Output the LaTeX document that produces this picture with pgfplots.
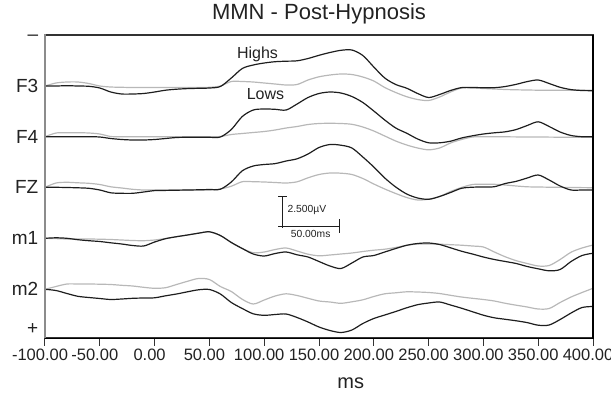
\documentclass[border=0pt]{standalone}
\usepackage{fontspec}
\setmainfont{Liberation Sans}
\usepackage{pgfplots}
\usepackage{pgfplotstable}
\usetikzlibrary{calc}
\pgfplotsset{compat=1.18}
\definecolor{framec}{HTML}{333333}
\definecolor{leftc}{HTML}{8C8C8C}
\definecolor{highc}{HTML}{1E1E1E}
\definecolor{lowc}{HTML}{B8B8B8}
\definecolor{textc}{HTML}{222222}
\pgfplotstableread{
ms f3h f3l f4h f4l fzh fzl m1h m1l m2h m2l
-100 86 86 136.7 136.7 187.3 187.3 238.3 238.3 289.3 289.3
-90 86 83 136.7 133 187.3 183 237.8 238.6 290.5 286.5
-80 85.7 82 136.7 132.7 187.5 182.3 238.3 239 293.5 284
-70 86 82 136.7 132.7 187.8 182.8 239.7 239 296.3 284
-60 86.3 83.5 136.7 133 188.3 183.3 240.7 239 297.5 284
-50 88 86 137 134 190 184.5 241.5 239.2 298.5 284.2
-40 92 87 138.5 136.5 192.8 186.8 242.8 239.5 299.5 284.5
-30 94 87.3 139.5 136.7 193.3 188 244 240 299 285.3
-20 94 87.5 140 136.7 193.3 189.3 245.5 240.5 298.3 286
-10 93.5 87.5 140 136.7 192 190 246 240.7 298 287.3
0 92 87.5 139.5 136.7 190.6 190 242 240 297.8 288.3
10 90.2 87.5 138.5 136.7 190.4 190 238.7 238.5 295.8 287.7
20 89.2 87.5 137.5 136.7 190.2 190 236.7 236.7 294 284.5
30 88.6 87.5 137.3 136.7 190 190 235 235 291.8 281.3
40 88.3 87.5 137.3 136.7 189.8 190 233.2 233.2 289.8 278.5
50 88 87.3 137.3 136.7 189.5 190 231.8 231.8 289.5 279.5
60 86.5 86 137 136.5 189.2 189 235.5 235.5 294 286.5
70 78 81.5 129.5 134.5 182 186.2 242.5 242.5 302.5 291.5
80 68.5 81.5 116.5 133.5 170.8 181.7 248.5 248.5 308.5 299.3
90 65 82 110 132.5 166 181.7 254 252.7 313.8 304
100 63 83 109 131.5 164.5 182 256 252 315.3 300
110 61.7 84 109.3 130 163.6 182.5 253.5 249.5 314.5 296
120 61.2 85 110 128 161 183 252 248 314 293.8
130 60.8 84.5 104 126.5 158.8 181.8 254.8 251 317.5 295.5
140 58.5 80 97.5 124.5 154 177.8 257 254.2 322 298.3
150 55.3 76.8 93.5 123.5 147.5 174.5 261.5 255.8 327 301
160 52.5 75 92 123.3 144.5 173 266 255 330.5 302
170 50.3 74 93 123.5 145.2 173.2 268.5 254 332.5 303.3
180 50 74.5 96.5 124.3 148 174.5 263 253 330 301.8
190 55.5 77 102.5 127 157 178.5 257 251.5 323.5 299.8
200 67 81 111 131 167 184 255.5 250.2 318.5 296.5
210 78 87.5 120 136 178 189 252 249.2 315 293.8
220 84.5 92.5 128 141 187 193.5 248.5 247.5 311.5 292.8
230 88.2 96.7 133.2 145 194 197.5 245.3 245.3 307.8 291.8
240 93.5 99.5 139 148 198 200 243.5 244 304.7 292
250 97.5 100.5 142.8 149.8 199.3 199.2 243 244 303 292.5
260 94.5 97 142.8 148 196.5 196.5 244.5 244.2 302 293.5
270 90.5 92 141.2 143 192.5 191.5 247.8 244.7 305 295.3
280 87.6 88 138 139.5 188.3 187.5 251.2 245.2 308.2 297
290 87.5 88 135.8 137 187.2 184.5 254 246 311.7 298.3
300 87.7 88.5 134 136.7 187 184.3 257 247 315.2 299.5
310 87.7 89 132.8 136.7 186.7 184.3 259.5 252 317.8 301
320 86.5 89.5 131.8 136.8 183.5 185 261.5 256.8 319.3 303.3
330 84.3 89.8 129.5 136.9 181.3 186 263.5 260.7 320.8 305.2
340 81.6 90 125.5 137 178 186.8 266.5 263.5 322.6 307
350 80 90.2 121.8 137 175 187 268.8 266 325.2 309
360 83.5 90.3 126.5 137.1 180 187.2 270.8 265.5 325 308.5
370 87.3 90.3 132 137.2 186 187.3 269.5 259.5 319.5 302.5
380 89.6 90.3 135.5 137.2 190 187.5 261.5 252.2 313 297
390 90.5 90.3 136.7 137.3 190 187.6 255.5 248 307.5 292.5
400 90.7 90.3 136.7 137.3 190 187.7 253.2 245 306.5 288.3
}\eeg
\begin{document}
\begin{tikzpicture}
\begin{axis}[
  width=548pt, height=302.7pt, scale only axis,
  xmin=-100, xmax=400, ymin=35, ymax=337.7, y dir=reverse,
  clip=false,
  xtick={-100,-50,...,400},
  xticklabels={-100.00,-50.00,0.00,50.00,100.00,150.00,200.00,250.00,300.00,350.00,400.00},
  ytick={38,86,136.7,187.3,238.3,289.3,329},
  yticklabels={–,F3,F4,FZ,m1,m2,+},
  tick align=outside, major tick length=8pt,
  xtick pos=left,
  ytick style={draw=none},
  x tick style={framec, line width=1pt},
  xticklabel style={font=\fontsize{16.5}{18}\selectfont, text=textc, xshift=-5pt},
  yticklabel style={font=\fontsize{19}{21}\selectfont, text=textc, inner sep=0pt, xshift=1.5pt},
  title={MMN - Post-Hypnosis},
  title style={font=\fontsize{22}{24}\selectfont, text=textc, anchor=base, yshift=10pt},
  xlabel={ms},
  xlabel style={font=\fontsize{20}{22}\selectfont, text=textc, at={(ticklabel cs:0.558)}, anchor=north, inner sep=0pt, yshift=-13pt},
]
\addplot[no marks, smooth, color=lowc, line width=1.2pt] table[x=ms, y=f3l] {\eeg};
\addplot[no marks, smooth, color=lowc, line width=1.2pt] table[x=ms, y=f4l] {\eeg};
\addplot[no marks, smooth, color=lowc, line width=1.2pt] table[x=ms, y=fzl] {\eeg};
\addplot[no marks, smooth, color=lowc, line width=1.2pt] table[x=ms, y=m1l] {\eeg};
\addplot[no marks, smooth, color=lowc, line width=1.2pt] table[x=ms, y=m2l] {\eeg};
\addplot[no marks, smooth, color=highc, line width=1.2pt] table[x=ms, y=f3h] {\eeg};
\addplot[no marks, smooth, color=highc, line width=1.2pt] table[x=ms, y=f4h] {\eeg};
\addplot[no marks, smooth, color=highc, line width=1.2pt] table[x=ms, y=fzh] {\eeg};
\addplot[no marks, smooth, color=highc, line width=1.2pt] table[x=ms, y=m1h] {\eeg};
\addplot[no marks, smooth, color=highc, line width=1.2pt] table[x=ms, y=m2h] {\eeg};
% scale bar
\draw[highc, line width=1pt] (axis cs:112.6,196) -- (axis cs:120.5,196);
\draw[highc, line width=1pt] (axis cs:116.9,196) -- (axis cs:116.9,227.5);
\draw[highc, line width=1pt] (axis cs:112.6,226.3) -- (axis cs:168.5,226.3);
\draw[highc, line width=1pt] (axis cs:168.5,219) -- (axis cs:168.5,233.3);
\node[anchor=west, inner sep=0pt, font=\fontsize{10.3}{12}\selectfont, text=textc] at (axis cs:121.2,210) {2.500µV};
\node[anchor=west, inner sep=0pt, font=\fontsize{10.3}{12}\selectfont, text=textc] at (axis cs:124.2,234.3) {50.00ms};
\node[anchor=base, inner sep=0pt, font=\fontsize{16}{18}\selectfont, text=textc] at (axis cs:93.9,58) {Highs};
\node[anchor=base, inner sep=0pt, font=\fontsize{16}{18}\selectfont, text=textc] at (axis cs:101.2,99) {Lows};
\coordinate (BL) at (axis cs:-100,337.7);
\coordinate (BR) at (axis cs:400,337.7);
\coordinate (TR) at (axis cs:400,35);
\coordinate (TLL) at (axis cs:-100,35);
\end{axis}
\fill[framec] ($(TLL)+(-0.55pt,0.55pt)$) rectangle ($(TR)+(0.55pt,-0.55pt)$);
\fill[framec] ($(TR)+(-0.55pt,0.55pt)$) rectangle ($(BR)+(0.55pt,-0.55pt)$);
\fill[framec] ($(BL)+(-0.55pt,0.55pt)$) rectangle ($(BR)+(0.55pt,-0.55pt)$);
\fill[leftc] ($(TLL)+(-0.55pt,0.55pt)$) rectangle ($(BL)+(0.55pt,-0.55pt)$);
\draw[black, line width=1.1pt] (TR) -- (BR);
\pgfresetboundingbox
\path[use as bounding box] (BL) ++(-45pt,-59.3pt) rectangle ++(611pt,397pt);
\end{tikzpicture}
\end{document}
